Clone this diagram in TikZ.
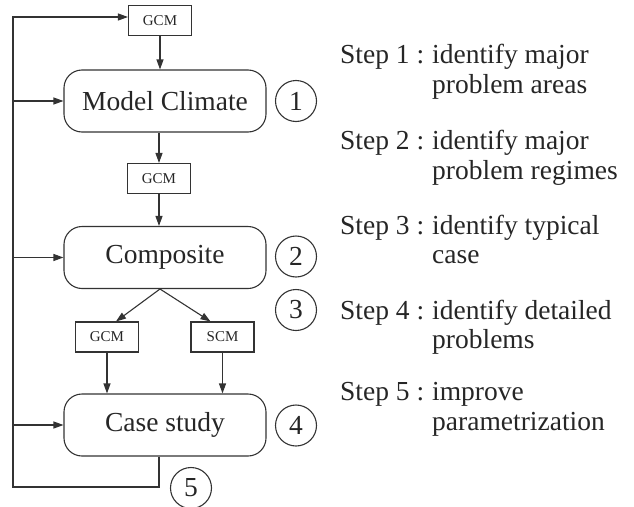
\documentclass[tikz,border=0pt]{standalone}
\usepackage{fontspec}
\setmainfont{Liberation Serif}
\usetikzlibrary{arrows.meta}
\begin{document}
\begin{tikzpicture}[x=1pt,y=-1pt,
  ln/.style={line width=1.1pt, draw=black!80},
  arr/.style={ln, -{Triangle[length=10pt,width=7pt]}},
  bigbox/.style={ln, rounded corners=18pt, minimum width=202pt, minimum height=62pt, inner sep=0pt, font=\fontsize{27.5}{30}\selectfont, text=black!85},
  smallbox/.style={ln, minimum width=63pt, minimum height=30pt, inner sep=0pt, font=\fontsize{15}{16}\selectfont, text=black!85},
  num/.style={ln, circle, minimum size=41pt, inner sep=0pt, font=\fontsize{27.5}{30}\selectfont, text=black!85},
  steptext/.style={anchor=base west, inner sep=0pt, font=\fontsize{27.5}{30}\selectfont, text=black!85}
]
\useasboundingbox (0,0) rectangle (634,506);

% boxes
\node[smallbox] (g1) at (160,20.5) {GCM};
\node[bigbox] (mc) at (165,101) {Model Climate};
\node[smallbox] (g2) at (159,178.5) {GCM};
\node[bigbox] (comp) at (165,257.5) {Composite};
\node[smallbox] (g3) at (107,337) {GCM};
\node[smallbox] (scm) at (222.5,337) {SCM};
\node[bigbox] (cs) at (165,425) {Case study};

% numbered circles
\node[num] (c1) at (296,101) {1};
\node[num] (c2) at (296,256.5) {2};
\node[num] (c3) at (296,310) {3};
\node[num] (c4) at (296,425.5) {4};
\node[num] (c5) at (191,488) {5};

% helper coordinates
\coordinate (split) at (160,289);
\coordinate (bl) at (13,487);
\coordinate (tl) at (13,17);

% connectors
\draw[arr] (g1.south) -- (g1.south |- mc.north);
\draw[arr] (g2.north |- mc.south) -- (g2.north);
\draw[arr] (g2.south) -- (g2.south |- comp.north);
\draw[arr] (split) -- ([xshift=9pt]g3.north);
\draw[arr] (split) -- ([xshift=-12pt]scm.north);
\draw[arr] (g3.south) -- (g3.south |- cs.north);
\draw[arr] (scm.south) -- (scm.south |- cs.north);

% feedback loop
\draw[arr] ([xshift=-6pt]cs.south) |- (bl) -- (tl) -- ([yshift=3.5pt]g1.west);
\draw[arr] (mc.west -| bl) -- (mc.west);
\draw[arr] (comp.west -| bl) -- (comp.west);
\draw[arr] (cs.west -| bl) -- (cs.west);

% step descriptions
\node[steptext] (s1) at (340,63) {Step 1 :};
\node[steptext] (s1a) at (432,63) {identify major};
\node[steptext] (s1b) at (432,93) {problem areas};
\node[steptext] (s2) at (340,149) {Step 2 :};
\node[steptext] (s2a) at (432,149) {identify major};
\node[steptext] (s2b) at (432,179) {problem regimes};
\node[steptext] (s3) at (340,234) {Step 3 :};
\node[steptext] (s3a) at (432,234) {identify typical};
\node[steptext] (s3b) at (432,263) {case};
\node[steptext] (s4) at (340,319) {Step 4 :};
\node[steptext] (s4a) at (432,319) {identify detailed};
\node[steptext] (s4b) at (432,348) {problems};
\node[steptext] (s5) at (340,400) {Step 5 :};
\node[steptext] (s5a) at (432,400) {improve};
\node[steptext] (s5b) at (432,430) {parametrization};
\end{tikzpicture}
\end{document}
